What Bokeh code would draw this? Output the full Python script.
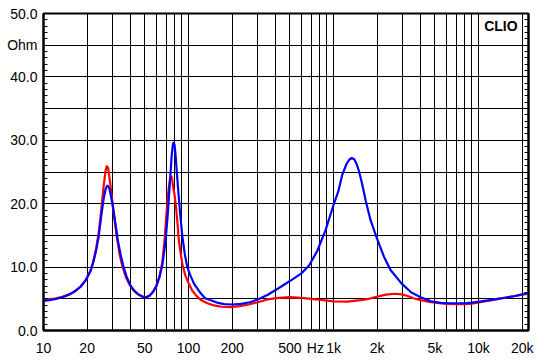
from bokeh.plotting import figure
from bokeh.models import FixedTicker, LinearAxis, Label, Range1d
from bokeh.embed import file_html
from bokeh.resources import INLINE

# ---- data ----
red_freq = [10, 11, 12, 13.5, 15, 16.5, 18, 19.5, 21, 22, 23, 24, 25, 26, 26.8, 27.3, 27.9,
            28.7, 29.7, 30.7, 32, 33.5, 35, 37, 39.5, 42, 45, 48, 51, 54, 57, 60, 63, 66,
            68.5, 70.5, 72.5, 74.5, 75.9, 77.2, 78.5, 80, 82, 84, 86, 88.5, 91, 95, 100,
            106, 113, 122, 135, 150, 170, 195, 225, 260, 300, 350, 420, 500, 600, 700, 800,
            1000, 1250, 1540, 1750, 2000, 2300, 2640, 2950, 3250, 3600, 4000, 4500, 5000,
            6000, 7000, 8000, 9000, 10500, 12000, 13500, 15500, 17500, 20000, 22100]
red_ohm = [4.8, 4.95, 5.05, 5.3, 5.7, 6.2, 6.9, 7.9, 9.3, 10.8, 12.8, 15.3, 19.0, 22.8, 25.2,
           26.0, 25.6, 23.6, 20.8, 18.0, 14.8, 12.0, 10.1, 8.4, 7.1, 6.3, 5.7, 5.35, 5.25,
           5.5, 6.1, 7.0, 8.5, 10.8, 14.5, 18.5, 21.8, 23.9, 24.4, 23.8, 22.5, 21.5, 19.5,
           16.8, 14.0, 12.0, 10.3, 8.7, 7.5, 6.3, 5.5, 4.8, 4.3, 3.95, 3.75, 3.7, 3.85,
           4.1, 4.45, 4.9, 5.15, 5.25, 5.15, 5.0, 4.85, 4.6, 4.55, 4.8, 5.0, 5.35, 5.65,
           5.8, 5.7, 5.45, 5.05, 4.8, 4.55, 4.4, 4.2, 4.15, 4.15, 4.25, 4.5, 4.75, 4.95,
           5.2, 5.4, 5.65, 5.8]

blue_freq = [10, 11, 12, 13.5, 15, 16.5, 18, 19.5, 21, 22, 23, 24, 25, 26, 26.8, 27.6, 28.4,
             29.3, 30.4, 31.5, 32.5, 34, 35.5, 37.5, 40, 42, 45, 48, 51, 54, 57, 60, 63, 66,
             69.4, 72, 74.5, 76.5, 78, 79.1, 80.2, 81.5, 83, 85, 87.5, 90.5, 94, 98, 103,
             109, 121, 130, 141, 160, 176, 200, 230, 265, 300, 350, 420, 500, 600, 680, 770,
             880, 1000, 1080, 1150, 1230, 1290, 1337, 1390, 1440, 1495, 1580, 1665, 1800,
             1980, 2230, 2480, 2950, 3440, 3990, 4700, 5500, 6500, 8000, 9000, 10400, 12000,
             13500, 15500, 17500, 20000, 22100]
blue_ohm = [4.65, 4.8, 4.95, 5.25, 5.65, 6.2, 6.9, 7.9, 9.3, 10.7, 12.5, 14.8, 18.0, 20.8,
            22.3, 22.9, 22.5, 21.0, 18.9, 16.5, 14.3, 12.0, 10.2, 8.4, 7.0, 6.35, 5.7, 5.35,
            5.25, 5.5, 6.1, 7.0, 8.4, 10.3, 14.0, 18.5, 23.5, 27.5, 29.3, 29.7, 29.2, 27.5,
            25.0, 22.0, 18.5, 15.0, 12.2, 10.0, 8.7, 7.4, 5.9, 5.1, 4.8, 4.35, 4.15, 4.1,
            4.2, 4.45, 4.9, 5.6, 6.7, 7.8, 9.0, 10.3, 12.5, 15.8, 19.8, 22.0, 24.6, 26.3,
            27.0, 27.2, 27.0, 26.3, 25.2, 23.0, 20.5, 17.4, 14.7, 11.6, 9.5, 7.4, 6.0, 5.25,
            4.6, 4.35, 4.3, 4.3, 4.4, 4.6, 4.8, 5.0, 5.2, 5.4, 5.7, 5.95]

x_grid_freqs = [10, 20, 30, 40, 50, 60, 70, 80, 90,
                100, 200, 300, 400, 500, 600, 700, 800, 900,
                1000, 2000, 3000, 4000, 5000, 6000, 7000, 8000, 9000,
                10000, 20000]
x_label_freqs = [10, 20, 50, 100, 200, 500, 750, 1000, 2000, 5000, 10000, 20000]
x_labels = ["10", "20", "50", "100", "200", "500", "Hz", "1k", "2k", "5k", "10k", "20k"]

y_grid_vals = [0, 5, 10, 15, 20, 25, 30, 35, 40, 45, 50]
y_label_vals = [0, 10, 20, 30, 40, 45, 50]
y_labels = ["0.0", "10.0", "20.0", "30.0", "40.0", "Ohm", "50.0"]
y_minor_vals = list(range(0, 51))

FONT = "Liberation Sans"

p = figure(width=538, height=360, x_axis_type="log",
           x_range=Range1d(10, 22100), y_range=Range1d(0, 50),
           output_backend="svg", toolbar_location=None,
           min_border_left=43, min_border_right=10, min_border_top=13, min_border_bottom=30)

p.background_fill_color = "white"
p.border_fill_color = "white"
p.outline_line_color = "black"
p.outline_line_width = 2

# grids
p.xgrid.ticker = FixedTicker(ticks=x_grid_freqs)
p.ygrid.ticker = FixedTicker(ticks=y_grid_vals)
for g in (p.xgrid, p.ygrid):
    g.grid_line_color = "black"
    g.grid_line_width = 1
    g.grid_line_alpha = 1.0

# x axis
xa = p.xaxis[0]
xa.ticker = FixedTicker(ticks=x_label_freqs)
xa.major_label_overrides = {f: l for f, l in zip(x_label_freqs, x_labels)}
xa.major_tick_line_color = None
xa.minor_tick_line_color = None
xa.major_tick_out = 0
xa.major_tick_in = 0
xa.minor_tick_out = 0
xa.minor_tick_in = 0
xa.axis_line_color = "black"
xa.axis_line_width = 2
xa.major_label_standoff = 9
xa.major_label_text_font = FONT
xa.major_label_text_font_size = "14px"
xa.major_label_text_color = "black"

# y axis
ya = p.yaxis[0]
ya.ticker = FixedTicker(ticks=y_label_vals, minor_ticks=y_minor_vals)
ya.major_label_overrides = {v: l for v, l in zip(y_label_vals, y_labels)}
ya.major_tick_line_color = None
ya.major_tick_out = 0
ya.major_tick_in = 0
ya.minor_tick_line_color = "black"
ya.minor_tick_in = 4
ya.minor_tick_out = 0
ya.axis_line_color = "black"
ya.axis_line_width = 2
ya.major_label_standoff = 6
ya.major_label_text_font = FONT
ya.major_label_text_font_size = "14px"
ya.major_label_text_color = "black"

# right axis with inner minor ticks only
ra = LinearAxis(ticker=FixedTicker(ticks=[], minor_ticks=y_minor_vals))
ra.major_tick_line_color = None
ra.major_tick_out = 0
ra.major_tick_in = 0
ra.major_label_standoff = 0
ra.minor_tick_line_color = "black"
ra.minor_tick_in = 4
ra.minor_tick_out = 0
ra.axis_line_color = "black"
ra.axis_line_width = 2
p.add_layout(ra, "right")

# curves
p.line(red_freq, red_ohm, line_color="#ff0000", line_width=2.2)
p.line(blue_freq, blue_ohm, line_color="#0000ff", line_width=2.2)

# CLIO label
p.add_layout(Label(x=18600, y=49.3, text="CLIO", text_align="right", text_baseline="top",
                   text_font=FONT, text_font_size="14px", text_font_style="bold",
                   text_color="black"))

open("out.html", "w").write(file_html(p, INLINE))
